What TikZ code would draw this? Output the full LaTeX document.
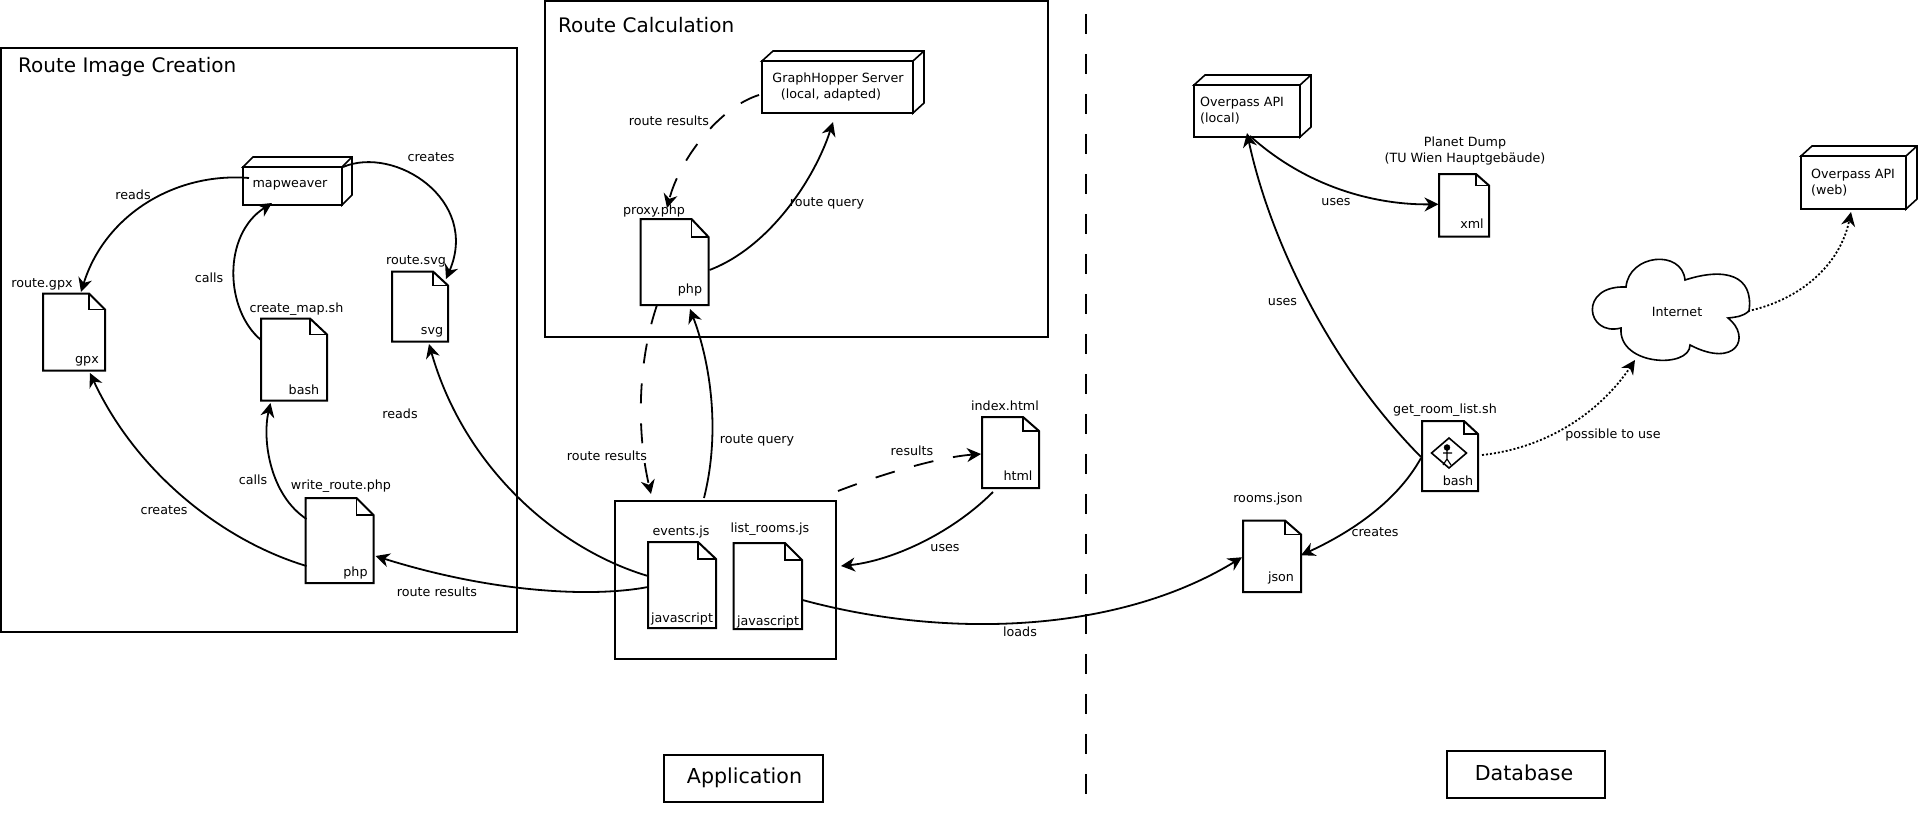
\documentclass[tikz,border=0pt]{standalone}
\usepackage{fontspec}
\setmainfont{DejaVu Sans}
\usetikzlibrary{arrows.meta}
\tikzset{
  box/.style={draw=black,line width=2pt,inner sep=0pt},
  ln/.style={draw=black,line width=1.6pt,line join=miter},
  conn/.style={draw=black,line width=1.8pt,-{Stealth[length=14pt,width=14pt,inset=4.5pt]}},
  dashconn/.style={conn,dash pattern=on 20pt off 20pt},
  dotconn/.style={conn,dash pattern=on 2pt off 2pt},
  lab/.style={inner sep=0pt,font=\fontsize{12.7}{16}\selectfont,align=center},
  lableft/.style={lab,anchor=west,align=left},
  head/.style={inner sep=0pt,font=\fontsize{20}{23}\selectfont},
  headb/.style={inner sep=0pt,font=\fontsize{20.6}{23}\selectfont},
}
% name x1 y1 x2 y2 foldx foldy
\newcommand{\filebox}[7]{%
  \node[inner sep=0pt,minimum width={(#4-#2)*1pt},minimum height={(#5-#3)*1pt}] (#1) at ({(#2+#4)/2},{(#3+#5)/2}) {};
  \draw[ln,line width=2pt,fill=white] (#2,#3) -- (#6,#3) -- (#4,#7) -- (#4,#5) -- (#2,#5) -- cycle;
  \draw[ln] (#6,#3) -- (#6,#7) -- (#4,#7);
}
% name x1 y1 x2 y2 dx dy
\newcommand{\cubebox}[7]{%
  \draw[ln,fill=white] (#2,#3) -- ({#2+#6},{#3-#7}) -- ({#4+#6},{#3-#7}) -- ({#4+#6},{#5-#7}) -- (#4,#5) -- (#4,#3) -- cycle;
  \draw[ln] (#4,#3) -- ({#4+#6},{#3-#7});
  \node[box,fill=white,minimum width={(#4-#2)*1pt},minimum height={(#5-#3)*1pt}] (#1) at ({(#2+#4)/2},{(#3+#5)/2}) {};
}
\newcommand{\rectbox}[5]{%
  \node[box,minimum width={(#4-#2)*1pt},minimum height={(#5-#3)*1pt}] (#1) at ({(#2+#4)/2},{(#3+#5)/2}) {};
}
\begin{document}
\begin{tikzpicture}[x=1pt,y=-1pt]
\useasboundingbox (0,0) rectangle (1928,814);
\fill[white] (0,0) rectangle (1928,814);
% containers
\rectbox{ric}{1}{48}{517}{632}
\rectbox{rc}{545}{0.5}{1048}{337}
\rectbox{app}{615}{501}{836}{659}
\rectbox{appl}{664}{755}{823}{802}
\rectbox{dbl}{1447}{751}{1605}{798}
\node[head,anchor=west] (ricT) at (18,67) {Route Image Creation};
\node[head,anchor=west] (rcT) at (558,25.5) {Route Calculation};
\node[headb] (applT) at (744.5,778) {Application};
\node[headb] (dblT) at (1524,773) {Database};
% separator
\coordinate (sepA) at (1086,14);
\coordinate (sepB) at (1086,796);
\draw[black,line width=2pt,dash pattern=on 20pt off 20pt] (sepA) -- (sepB);
% route image creation
\cubebox{mapw}{243}{167}{342}{205}{10}{10}
\node[lab] (mapwT) at (290,185) {mapweaver};
\filebox{gpx}{43}{293.5}{105}{370.5}{89}{309.5}
\node[lab] (gpxL) at (42,284) {route.gpx};
\node[lab] (gpxE) at (87,361) {gpx};
\filebox{cmap}{261}{318.5}{327}{400.5}{310}{334.5}
\node[lab] (cmapL) at (296.5,309.5) {create\_map.sh};
\node[lab] (cmapE) at (304,390) {bash};
\filebox{svg}{392}{271.5}{448}{341.5}{433}{285.5}
\node[lab] (svgL) at (416,261) {route.svg};
\node[lab] (svgE) at (432,332) {svg};
\filebox{wr}{305.5}{498}{373.5}{583}{356.5}{515}
\node[lab] (wrL) at (341,486) {write\_route.php};
\node[lab] (wrE) at (355.5,572.5) {php};
% route calculation
\cubebox{gh}{762}{61}{913}{113}{11}{10}
\node[lab] (ghT) at (838,86.5) {GraphHopper Server\\\hspace*{-14pt}(local, adapted)};
\filebox{proxy}{640.5}{219}{708.5}{305}{691.5}{237}
\node[lab] (proxyL) at (654,211) {proxy.php};
\node[lab] (proxyE) at (690,290) {php};
% application
\filebox{ev}{648}{542}{716}{628}{698}{559}
\node[lab] (evL) at (681,532) {events.js};
\node[lab] (evE) at (682,619) {javascript};
\filebox{lr}{733.5}{543}{802}{629}{785}{560}
\node[lab] (lrL) at (770,529) {list\_rooms.js};
\node[lab] (lrE) at (768,622) {javascript};
\filebox{idx}{982}{417}{1039}{488}{1023}{431}
\node[lab] (idxL) at (1005,406) {index.html};
\node[lab] (idxE) at (1018,476) {html};
% database
\cubebox{opl}{1194}{85}{1300}{137}{11}{10}
\node[lableft] (oplT) at (1200,111) {Overpass API\\(local)};
\filebox{xml}{1439}{174}{1489}{236.5}{1476}{185.5}
\node[lab] (xmlL) at (1465,151) {Planet Dump\\(TU Wien Hauptgebäude)};
\node[lab] (xmlE) at (1472,224) {xml};
\cubebox{opw}{1801}{156}{1906}{209}{11}{10}
\node[lableft] (opwT) at (1811,183) {Overpass API\\(web)};
\filebox{grl}{1422}{421}{1478}{491}{1464}{434}
\node[lab] (grlL) at (1445,410) {get\_room\_list.sh};
\node[lab] (grlE) at (1458,480.5) {bash};
\draw[ln] (1449,438) -- (1466.5,453) -- (1449,468) -- (1431.5,453) -- cycle;
\draw[black,fill=black] (1447,447.5) circle (3pt);
\draw[black,line width=1.2pt] (1447,449) -- (1447,459) (1443,453) -- (1452,453) (1443,465) -- (1447,459) -- (1451,465);
\filebox{rj}{1243}{520.5}{1301}{592}{1285}{534.5}
\node[lab] (rjL) at (1268,499) {rooms.json};
\node[lab] (rjE) at (1281,577.5) {json};
% cloud
\node[inner sep=0pt,minimum width=160pt,minimum height=105pt] (cloud) at (1670,310) {};
\draw[ln,fill=white] (1626,287) .. controls (1629,254) and (1682,249) .. (1685,280)
  .. controls (1725,267) and (1754,275) .. (1749,311)
  .. controls (1742,317) and (1736,317) .. (1728,318)
  .. controls (1752,337) and (1736,369) .. (1690,345)
  .. controls (1690,369) and (1618,366) .. (1621,328)
  .. controls (1586,337) and (1578,285) .. (1626,287) -- cycle;
\node[lab] (cloudT) at (1677,312) {Internet};
% connector labels
\node[lab] (l1) at (133,195) {reads};
\node[lab] (l2) at (431,157) {creates};
\node[lab] (l3) at (209,278) {calls};
\node[lab] (l4) at (253,480) {calls};
\node[lab] (l5) at (400,413.5) {reads};
\node[lab] (l6) at (164,510) {creates};
\node[lab] (l7) at (437,591.5) {route results};
\node[lab] (l8) at (669,121) {route results};
\node[lab] (l9) at (827,203) {route query};
\node[lab] (l10) at (607,455.5) {route results};
\node[lab] (l11) at (757,440) {route query};
\node[lab] (l12) at (912,451) {results};
\node[lab] (l13) at (945,548) {uses};
\node[lab] (l14) at (1020,632) {loads};
\node[lab] (l15) at (1336,202.5) {uses};
\node[lab] (l16) at (1282.5,302) {uses};
\node[lab] (l17) at (1375,532) {creates};
\node[lab] (l18) at (1613,434.5) {possible to use};
% connectors
\draw[conn] ([shift={(-43.5,-8)}]mapw.center) .. controls (175,172) and (105,215) .. ([shift={(7,-40)}]gpx.center);
\draw[conn] ([shift={(50.5,-19)}]mapw.center) .. controls (395,145) and (480,200) .. ([shift={(26,-27.5)}]svg.center);
\draw[conn] ([shift={(-33,-19.5)}]cmap.center) .. controls (225,310) and (222,235) .. ([shift={(-20.5,17)}]mapw.center);
\draw[conn] ([shift={(-33,-21.5)}]wr.center) .. controls (270,495) and (262,440) .. ([shift={(-23.5,43.5)}]cmap.center);
\draw[conn] ([shift={(-33,25.5)}]wr.center) .. controls (220,540) and (135,470) .. ([shift={(16,41)}]gpx.center);
\draw[conn] ([shift={(-34,2)}]ev.center) .. controls (590,598) and (490,592) .. ([shift={(36,15.5)}]wr.center);
\draw[conn] ([shift={(-34,-9)}]ev.center) .. controls (560,550) and (465,470) .. ([shift={(9,37.5)}]svg.center);
\draw[dashconn] ([shift={(-78.5,8)}]gh.center) .. controls (720,107) and (680,158) .. ([shift={(-7.5,-54)}]proxy.center);
\draw[conn] ([shift={(35,8)}]proxy.center) .. controls (770,247) and (815,178) .. ([shift={(-4.5,35)}]gh.center);
\draw[dashconn] ([shift={(-17.5,43)}]proxy.center) .. controls (637,364) and (637,434) .. ([shift={(-74.5,-86)}]app.center);
\draw[conn] ([shift={(-21.5,-82)}]app.center) .. controls (722,426) and (708,356) .. ([shift={(15.5,47)}]proxy.center);
\draw[dashconn] ([shift={(112.5,-89)}]app.center) .. controls (885,473) and (940,457) .. ([shift={(-29.5,1.5)}]idx.center);
\draw[conn] ([shift={(-17.5,39.5)}]idx.center) .. controls (950,535) and (890,561) .. ([shift={(115.5,-14)}]app.center);
\draw[conn] ([shift={(34.75,14)}]lr.center) .. controls (950,640) and (1120,632) .. ([shift={(-30,1)}]rj.center);
\draw[conn] ([shift={(3,25)}]opl.center) .. controls (1310,190) and (1380,205) .. ([shift={(-25.5,-1)}]xml.center);
\draw[conn] ([shift={(-29,1)}]grl.center) .. controls (1330,365) and (1270,240) .. ([shift={(0,22)}]opl.center);
\draw[conn] ([shift={(-29,2)}]grl.center) .. controls (1395,505) and (1345,535) .. ([shift={(29,-1)}]rj.center);
\draw[dotconn] ([shift={(32,-1)}]grl.center) .. controls (1555,447) and (1605,405) .. ([shift={(-35,50)}]cloud.center);
\draw[dotconn] ([shift={(78,1)}]cloud.center) .. controls (1800,300) and (1840,265) .. ([shift={(-2.5,29.5)}]opw.center);
\end{tikzpicture}
\end{document}
